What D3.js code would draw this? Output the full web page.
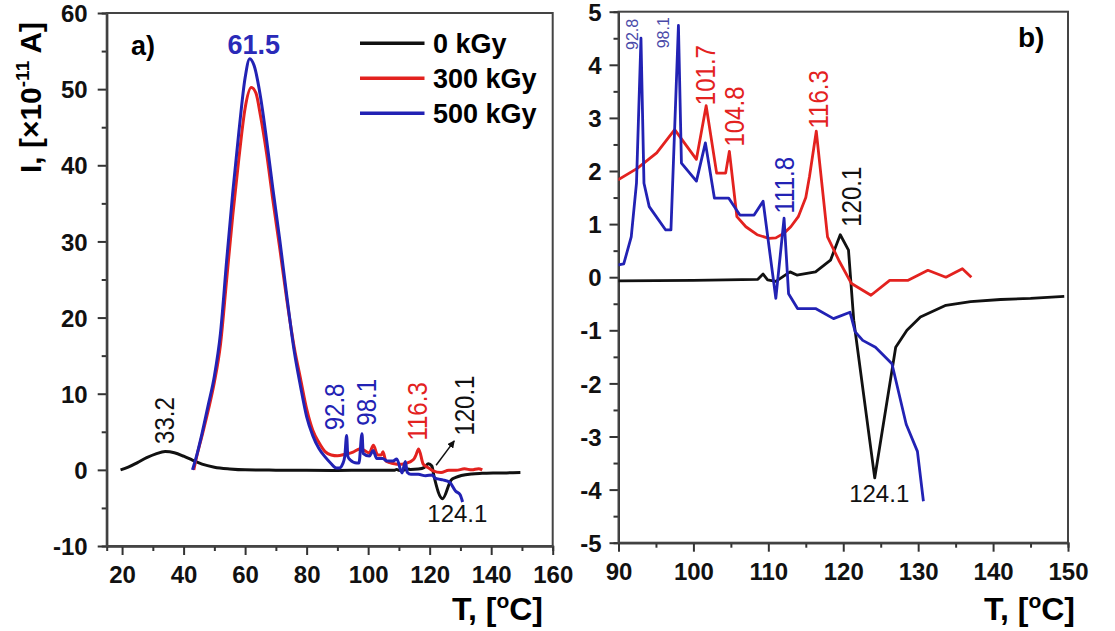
<!DOCTYPE html>
<html>
<head>
<meta charset="utf-8">
<title>TSDC curves</title>
<style>
  body { margin: 0; background: #fff; }
  svg { font-family: "Liberation Sans", Arial, sans-serif; }
  .axis text { font-size: 24px; font-weight: bold; fill: #111; }
  .axis path, .axis line { stroke: #333; stroke-width: 2; }
  .frame { fill: none; stroke: #444; stroke-width: 2; }
  .curve { fill: none; stroke-linejoin: round; }
</style>
</head>
<body>
<svg id="chart" width="1115" height="631"></svg>
<script src="https://cdn.jsdelivr.net/npm/d3@7/dist/d3.min.js"></script>
<script>
// series names and colours
var doses = ['0 kGy', '300 kGy', '500 kGy'];
var colors = ['#111111', '#e3221f', '#2222b4'];

// 0 kGy
var t0 = [19.5, 22, 25, 28, 31, 34, 37, 40, 43, 46, 50, 55, 60, 70, 80, 90, 100, 108.6, 109.3, 109.9, 111, 112.9, 113.8, 116.3, 118.3, 119.6, 120.7, 121.4, 124.2, 127, 128.5, 130.3, 133.7, 137, 141, 145, 149.5];
var i0 = [0, 0.35, 0.95, 1.6, 2.1, 2.4, 2.25, 1.8, 1.25, 0.75, 0.35, 0.12, 0, -0.04, -0.06, -0.07, -0.06, -0.04, 0.06, -0.05, -0.08, 0.1, 0.04, 0.1, 0.32, 0.8, 0.51, -0.81, -3.78, -1.32, -1.0, -0.75, -0.53, -0.46, -0.42, -0.4, -0.36];

// 300 kGy
var t300 = [43.3, 44, 46, 48, 50, 52, 54, 56, 58, 60, 62, 63.5, 65, 67, 69, 71.3, 73.5, 76, 78, 80, 82, 84, 86, 88, 90, 92.5, 95.1, 97.5, 100.4, 101.7, 103.1, 104.3, 104.8, 105.8, 107, 108.5, 110.1, 111, 112.1, 113, 114, 115, 115.5, 116.4, 117.9, 119.4, 121.1, 123.7, 126.2, 128.6, 131.3, 133.7, 135.9, 137.1];
var i300 = [0, 1.3, 4.5, 7.8, 11.5, 16.5, 25, 33.5, 41, 47.5, 50.2, 49.5, 46.5, 41.5, 35.5, 29, 22.5, 16, 12, 8, 5.2, 3.6, 2.4, 1.95, 1.84, 2.05, 2.34, 2.78, 2.22, 3.23, 1.96, 1.96, 2.37, 1.14, 0.95, 0.8, 0.73, 0.74, 0.83, 0.95, 1.14, 1.5, 1.9, 2.75, 0.76, 0.32, -0.12, -0.34, -0.06, -0.06, 0.13, 0, 0.16, 0];

// 500 kGy
var t500 = [42.9, 44, 46, 48, 50, 52, 54, 56, 58, 60, 61.5, 63, 65, 67, 69, 71.3, 73.5, 76, 78, 80, 82, 84, 86, 88, 89.3, 90, 90.7, 91.7, 92.4, 93.0, 93.4, 94.1, 96.3, 97.0, 98.0, 98.4, 100.4, 101.6, 102.8, 104.7, 106.2, 108.1, 109.3, 111.0, 112.1, 112.7, 113.9, 116.3, 118.7, 120.9, 121.6, 122.6, 124.3, 126.5, 128.4, 129.9, 130.7];
var i500 = [0, 1.5, 4.8, 8.5, 12.3, 18, 27.5, 36.5, 44.5, 51.5, 54, 53, 49, 43.3, 37, 30.1, 23, 15.5, 11, 7, 4.5, 2.8, 1.7, 0.8, 0.3, 0.23, 0.25, 0.76, 1.77, 4.5, 1.77, 1.33, 0.89, 0.89, 4.74, 2.15, 1.81, 2.53, 1.49, 1.49, 1.17, 1.17, 1.43, -0.4, 1.11, -0.31, -0.59, -0.59, -0.78, -0.66, -1.03, -1.19, -1.32, -1.63, -2.77, -3.28, -4.22];

var temps = [t0, t300, t500];
var currents = [i0, i300, i500];

// tick values
var xTicksA = [20, 40, 60, 80, 100, 120, 140, 160];
var yTicksA = [-10, 0, 10, 20, 30, 40, 50, 60];
var xTicksB = [90, 100, 110, 120, 130, 140, 150];
var yTicksB = [-5, -4, -3, -2, -1, 0, 1, 2, 3, 4, 5];

// peak labels
var notesA = [
  { text: '33.2', t: 34, v: 3.4, c: 0, rot: true },
  { text: '92.8', t: 89.2, v: 5.2, c: 2, rot: true },
  { text: '98.1', t: 99.6, v: 5.8, c: 2, rot: true },
  { text: '116.3', t: 116.2, v: 3.85, c: 1, rot: true },
  { text: '120.1', t: 131.4, v: 4.5, c: 0, rot: true },
  { text: '124.1', t: 129, v: -6.9, c: 0, rot: false }
];
var notesB = [
  { text: '92.8', t: 91.9, v: 4.28, c: 3, rot: true, small: true },
  { text: '98.1', t: 96.0, v: 4.31, c: 3, rot: true, small: true },
  { text: '101.7', t: 101.7, v: 3.24, c: 1, rot: true },
  { text: '104.8', t: 105.6, v: 2.46, c: 1, rot: true },
  { text: '116.3', t: 116.7, v: 2.8, c: 1, rot: true },
  { text: '111.8', t: 112.2, v: 1.2, c: 2, rot: true },
  { text: '120.1', t: 121.2, v: 0.95, c: 0, rot: true },
  { text: '124.1', t: 124.8, v: -4.23, c: 0, rot: false }
];
var noteColors = ['#111111', '#e3221f', '#2222b4', '#4a4aa8'];

var svg = d3.select('#chart');

function drawPanel(p) {
  var x = d3.scaleLinear().domain(p.xDomain).range(p.xRange);
  var y = d3.scaleLinear().domain(p.yDomain).range(p.yRange);
  var g = svg.append('g');

  g.append('clipPath').attr('id', p.id + '-clip')
    .append('rect')
    .attr('x', p.xRange[0]).attr('y', p.yRange[1])
    .attr('width', p.xRange[1] - p.xRange[0])
    .attr('height', p.yRange[0] - p.yRange[1]);

  // minor ticks
  g.append('g').attr('class', 'axis')
    .attr('transform', 'translate(0,' + p.yRange[0] + ')')
    .call(d3.axisBottom(x).tickValues(p.xMinor).tickSize(5).tickFormat(''));
  g.append('g').attr('class', 'axis')
    .attr('transform', 'translate(' + p.xRange[0] + ',0)')
    .call(d3.axisLeft(y).tickValues(p.yMinor).tickSize(5).tickFormat(''));

  // major ticks
  g.append('g').attr('class', 'axis')
    .attr('transform', 'translate(0,' + p.yRange[0] + ')')
    .call(d3.axisBottom(x).tickValues(p.xTicks).tickSize(9).tickSizeOuter(0)
      .tickPadding(11).tickFormat(function (d) { return String(d); }));
  g.append('g').attr('class', 'axis')
    .attr('transform', 'translate(' + p.xRange[0] + ',0)')
    .call(d3.axisLeft(y).tickValues(p.yTicks).tickSize(9).tickSizeOuter(0)
      .tickPadding(p.yPad).tickFormat(function (d) { return String(d); }))
    .selectAll('text').attr('dy', '0.36em');

  g.append('rect').attr('class', 'frame')
    .attr('x', p.xRange[0]).attr('y', p.yRange[1])
    .attr('width', p.xRange[1] - p.xRange[0])
    .attr('height', p.yRange[0] - p.yRange[1]);

  var line = d3.line()
    .x(function (d) { return x(d[0]); })
    .y(function (d) { return y(d[1]); })
    .curve(p.curve);

  var plot = g.append('g').attr('clip-path', 'url(#' + p.id + '-clip)');
  temps.forEach(function (ts, k) {
    var pts = ts.map(function (t, j) { return [t, currents[k][j]]; });
    plot.append('path').attr('class', 'curve')
      .attr('d', line(pts))
      .attr('stroke', colors[k])
      .attr('stroke-width', p.lineWidth);
  });

  p.notes.forEach(function (n) {
    var px = x(n.t), py = y(n.v);
    var txt = g.append('text')
      .attr('fill', noteColors[n.c])
      .attr('font-size', n.small ? 16 : 24)
      .text(n.text);
    if (n.rot) {
      // tall, narrow figures like the original: keep the length, raise the size
      var len = txt.node().getComputedTextLength();
      if (!n.small) {
        txt.attr('font-size', 27)
          .attr('textLength', len)
          .attr('lengthAdjust', 'spacingAndGlyphs');
      }
      txt.attr('transform', 'translate(' + px + ',' + py + ') rotate(-90)')
        .attr('dominant-baseline', 'central');
    } else {
      txt.attr('x', px).attr('y', py).attr('text-anchor', 'middle');
    }
  });

  return { x: x, y: y, g: g };
}

var a = drawPanel({
  id: 'a', xDomain: [15, 160], yDomain: [-10, 60],
  xRange: [106.7, 552.7], yRange: [546, 13],
  xTicks: xTicksA, yTicks: yTicksA,
  xMinor: d3.range(30, 160, 20), yMinor: d3.range(-5, 60, 10),
  yPad: 10, curve: d3.curveMonotoneX, lineWidth: 3, notes: notesA
});

var b = drawPanel({
  id: 'b', xDomain: [90, 150], yDomain: [-5, 5],
  xRange: [618.5, 1068], yRange: [542.7, 11.7],
  xTicks: xTicksB, yTicks: yTicksB,
  xMinor: d3.range(95, 150, 10), yMinor: d3.range(-4.5, 5, 1),
  yPad: 8, curve: d3.curveLinear, lineWidth: 2.8, notes: notesB
});

// arrow to the 120.1 peak in panel a
svg.append('defs').append('marker')
  .attr('id', 'arrow').attr('viewBox', '0 0 10 10')
  .attr('refX', 9).attr('refY', 5)
  .attr('markerWidth', 5).attr('markerHeight', 5)
  .attr('orient', 'auto')
  .append('path').attr('d', 'M0,0L10,5L0,10Z').attr('fill', '#111');
a.g.append('line')
  .attr('x1', a.x(122.1)).attr('y1', a.y(0.6))
  .attr('x2', a.x(128)).attr('y2', a.y(3.8))
  .attr('stroke', '#111').attr('stroke-width', 1.5)
  .attr('marker-end', 'url(#arrow)');

// 61.5 main peak
a.g.append('text')
  .attr('x', a.x(62.8)).attr('y', a.y(54.6))
  .attr('text-anchor', 'middle')
  .attr('font-size', 27).attr('font-weight', 'bold')
  .attr('fill', '#2a2ab8')
  .text('61.5');

// panel letters
a.g.append('text').attr('x', 131).attr('y', 55)
  .attr('font-size', 27).attr('font-weight', 'bold').text('a)');
b.g.append('text').attr('x', 1018).attr('y', 47)
  .attr('font-size', 28).attr('font-weight', 'bold').text('b)');

// legend
var legend = a.g.append('g');
doses.forEach(function (d, k) {
  var ly = 43.3 + k * 35;
  legend.append('line')
    .attr('x1', 360).attr('x2', 424.5).attr('y1', ly).attr('y2', ly)
    .attr('stroke', colors[k]).attr('stroke-width', 3.5);
  legend.append('text')
    .attr('x', 433).attr('y', ly).attr('dy', '0.36em')
    .attr('font-size', 27).attr('font-weight', 'bold')
    .text(d);
});

// axis titles
function xTitle(xEnd) {
  var t = svg.append('text')
    .attr('x', xEnd).attr('y', 620)
    .attr('text-anchor', 'end')
    .attr('font-size', 32).attr('font-weight', 'bold');
  t.append('tspan').text('T, [');
  t.append('tspan').attr('font-size', 21).attr('dy', -12).text('o');
  t.append('tspan').attr('dy', 12).text('C]');
}
xTitle(543);
xTitle(1075);

var yt = svg.append('text')
  .attr('transform', 'translate(41,97.5) rotate(-90)')
  .attr('text-anchor', 'middle')
  .attr('font-size', 30).attr('font-weight', 'bold');
yt.append('tspan').text('I, [\u00d710');
yt.append('tspan').attr('font-size', 19).attr('dy', -12).text('-11');
yt.append('tspan').attr('dy', 12).text(' A]');
</script>
</body>
</html>
